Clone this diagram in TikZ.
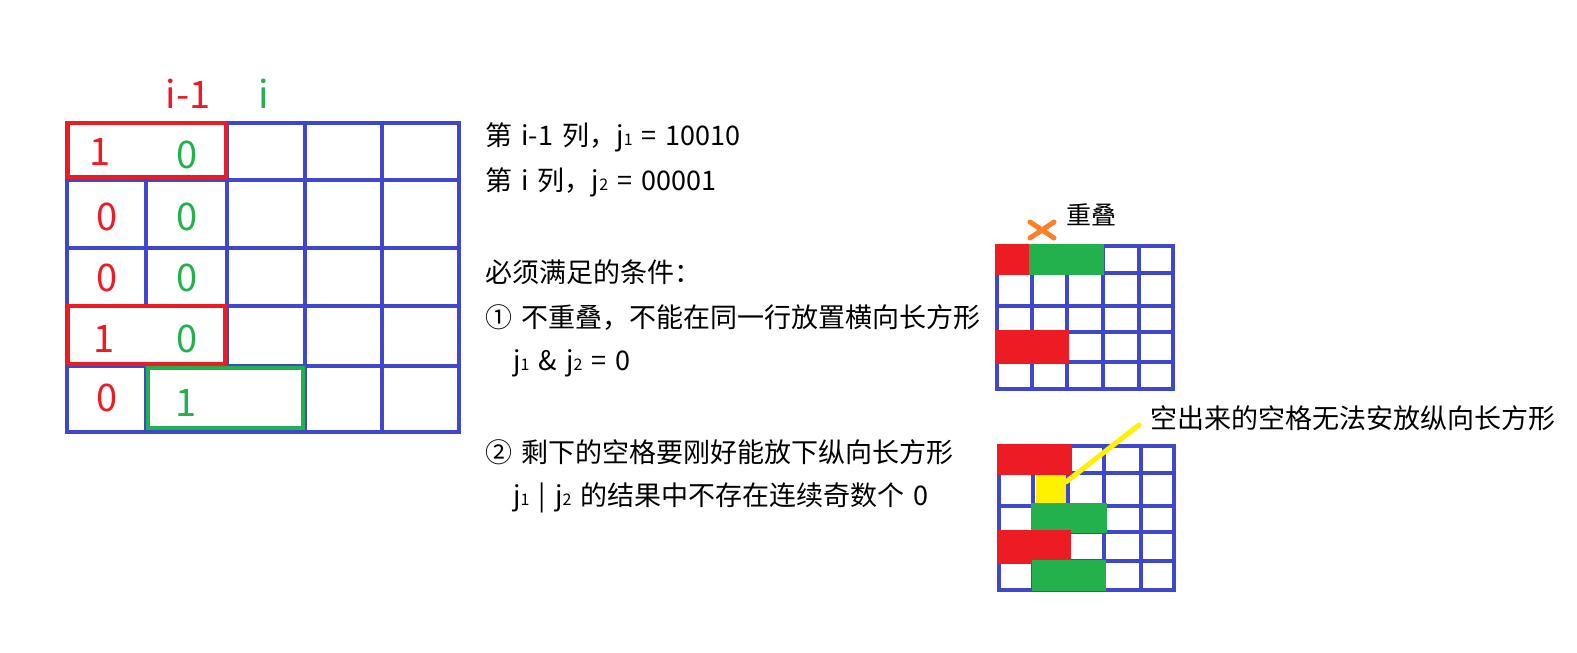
\documentclass[tikz,border=0pt]{standalone}
\usepackage{fontspec}
\setmainfont{Noto Sans CJK SC}
\usepackage{xcolor}
\usepackage{tikz}
\usetikzlibrary{calc}

\definecolor{gridblue}{HTML}{3F48CC}
\definecolor{paintred}{HTML}{ED1C24}
\definecolor{paintgreen}{HTML}{22B14C}
\definecolor{paintyellow}{HTML}{FFF200}
\definecolor{paintorange}{HTML}{FF7F27}
\newcommand{\jbit}[1]{j{\fontsize{16}{16}\selectfont #1}}
\newcommand{\widespaces}{\spaceskip=0.34em\relax}

\begin{document}
\begin{tikzpicture}[
  x=1pt, y=-1pt,
  gridline/.style={draw=gridblue, line width=4.5pt, line cap=rect},
  pairbox/.style={draw=paintred, line width=4.5pt, fill=white},
  vertbox/.style={draw=paintgreen, line width=4.5pt, fill=white},
  num/.style={inner sep=0pt, font=\fontsize{38}{40}\selectfont},
  note/.style={anchor=base west, inner sep=0pt, font=\fontsize{27}{30}\selectfont},
  tag/.style={anchor=west, inner sep=0pt, font=\fontsize{26.5}{30}\selectfont},
  pointer/.style={draw=paintyellow, line width=5pt, line cap=round},
  cross/.style={draw=paintorange, line width=5pt, line cap=round}
]
\useasboundingbox (0,0) rectangle (1577,653);

% left grid: columns i-1 and i
\foreach \x in {67,146,227,305,382,459}
  \draw[gridline] (\x,123) -- (\x,432);
\foreach \y in {123,180,248,306,366,432}
  \draw[gridline] (67,\y) -- (459,\y);
\draw[pairbox] (68,123) rectangle (226,177);
\draw[pairbox] (68,306) rectangle (225,364);
\draw[vertbox] (148,368) rectangle (303,428);

\node[num, text=paintred]   (hprev) at (188,94) {i-1};
\node[num, text=paintgreen] (hcurr) at (264,94) {i};

\node[num, text=paintred] (a1) at (100,152) {1};
\node[num, text=paintred] (a2) at (107,217) {0};
\node[num, text=paintred] (a3) at (107,278) {0};
\node[num, text=paintred] (a4) at (104,339) {1};
\node[num, text=paintred] (a5) at (107,398) {0};
\node[num, text=paintgreen] (b1) at (187,155) {0};
\node[num, text=paintgreen] (b2) at (187,217) {0};
\node[num, text=paintgreen] (b3) at (187,278) {0};
\node[num, text=paintgreen] (b4) at (187,339) {0};
\node[num, text=paintgreen] (b5) at (186,403) {1};

% text
\node[note] (row1) at (485,145) {\widespaces 第 i-1 列，\jbit{1} = 10010};
\node[note] (row2) at (485,190) {\widespaces 第 i 列，\jbit{2} = 00001};
\node[note] (cond) at (485,282) {必须满足的条件：};
\node[note] (rule1) at (485,327) {\widespaces ① 不重叠，不能在同一行放置横向长方形};
\node[note] (and) at (513,370) {\widespaces \jbit{1} \& \jbit{2} = 0};
\node[note] (rule2) at (485,462) {\widespaces ② 剩下的空格要刚好能放下纵向长方形};
\node[note] (or) at (513,505) {\widespaces \jbit{1} | \jbit{2} 的结果中不存在连续奇数个 0};

% top right grid: overlap
\foreach \x in {997,1032,1067,1103,1139,1173}
  \draw[gridline] (\x,246) -- (\x,389);
\foreach \y in {246,273,306,332,362,389}
  \draw[gridline] (997,\y) -- (1173,\y);
\fill[paintred] (995,244) rectangle (1029,275);
\fill[paintgreen] (1029,244) rectangle (1104,275);
\fill[paintred] (995,330) rectangle (1069,364);
\draw[cross] (1030,222) -- (1054,238);
\draw[cross] (1030,238) -- (1054,222);
\node[tag, font=\fontsize{25}{28}\selectfont] (overlap) at (1066,215) {重叠};

% bottom right grid: odd gap
\foreach \x in {999,1033,1068,1104,1141,1174}
  \draw[gridline] (\x,446) -- (\x,590);
\foreach \y in {446,473,506,532,561,590}
  \draw[gridline] (999,\y) -- (1174,\y);
\fill[paintred] (997,444) rectangle (1072,475);
\node[fill=paintyellow, inner sep=0pt, minimum width=30pt, minimum height=28pt]
  (gap) at (1051,489) {};
\fill[paintgreen] (1031,503) rectangle (1107,533);
\fill[paintred] (997,530) rectangle (1071,564);
\fill[paintgreen] (1032,560) rectangle (1106,591);
\node[tag, font=\fontsize{27}{30}\selectfont] (callout) at (1150,418)
  {空出来的空格无法安放纵向长方形};
\draw[pointer] ([yshift=-7pt]gap.north east) -- ([xshift=-11pt,yshift=-7pt]callout.west);
\end{tikzpicture}
\end{document}
